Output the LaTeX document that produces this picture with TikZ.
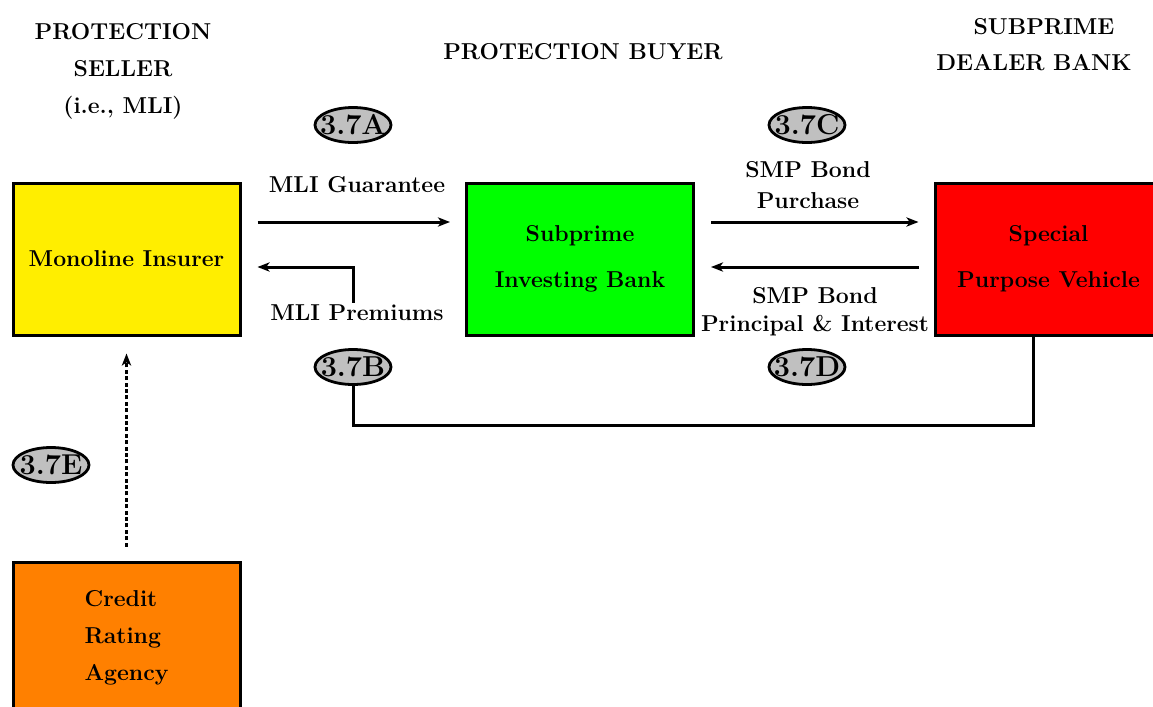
\documentclass[tikz,border=0pt]{standalone}
\usetikzlibrary{arrows.meta,shapes.geometric}
\definecolor{mliyellow}{RGB}{255,238,0}
\definecolor{sibgreen}{RGB}{0,255,0}
\definecolor{spvred}{RGB}{255,0,0}
\definecolor{craorange}{RGB}{255,128,0}
\definecolor{tagfill}{RGB}{192,192,192}
\tikzset{
  party/.style={draw=black,line width=1.5pt,rectangle,minimum width=113.5pt,minimum height=76pt,inner sep=0pt,
    font=\fontsize{11.5}{23}\selectfont\bfseries,align=center},
  tag/.style={draw=black,line width=1.4pt,ellipse,fill=tagfill,minimum width=38pt,minimum height=17.5pt,
    inner xsep=-6pt,inner ysep=0.5pt,font=\fontsize{14.4}{16}\selectfont\bfseries},
  flowlabel/.style={font=\fontsize{11.5}{15.5}\selectfont\bfseries,align=center,inner sep=1pt},
  heading/.style={font=\fontsize{11.5}{18.5}\selectfont\bfseries,align=center},
  flow/.style={line width=1.5pt,-{Stealth[length=6pt,width=4.6pt,inset=1.6pt]}},
  link/.style={line width=1.5pt},
}
\begin{document}
\begin{tikzpicture}[x=0.5pt,y=-0.5pt]
\useasboundingbox (0,0) rectangle (1153,707);
\begin{scope}
\clip (0,0) rectangle (1153,707);
% parties
\node[party,fill=mliyellow] (mli) at (126.5,259) {Monoline Insurer};
\node[party,fill=sibgreen] (sib) at (580,259) {Subprime\\Investing Bank};
\node[party,fill=spvred] (spv) at (1048.5,259) {Special\\Purpose Vehicle};
\node[party,fill=craorange,align=left,font=\fontsize{11.5}{18.5}\selectfont\bfseries] (cra) at (126.5,638) {Credit\\Rating\\Agency};
\end{scope}

% headings
\node[heading] (seller) at (123,71) {PROTECTION\\SELLER\\(i.e., MLI)};
\node[heading] (buyer) at (583,52) {PROTECTION BUYER};
\node[heading,font=\fontsize{11.5}{18}\selectfont\bfseries] (dealer) at (1034,45) {\hspace*{10pt}SUBPRIME\\DEALER BANK};

% step tags
\node[tag] (tA) at (353,125) {3.7A};
\node[tag] (tC) at (807,125) {3.7C};
\node[tag] (tB) at (353,367) {3.7B};
\node[tag] (tD) at (807,367) {3.7D};
\node[tag] (tE) at (51,465) {3.7E};

% flow labels
\node[flowlabel] (guar) at (357,185) {MLI Guarantee};
\node[flowlabel] (prem) at (357,313) {MLI Premiums};
\node[flowlabel] (purch) at (808,185) {SMP Bond\\Purchase};
\node[flowlabel,font=\fontsize{11.5}{14}\selectfont\bfseries] (pni) at (815,312) {SMP Bond\\Principal \& Interest};

% guarantee and premiums
\draw[flow] ([xshift=8pt,yshift=18.5pt]mli.east) -- ([xshift=-7.5pt,yshift=18.5pt]sib.west);
\coordinate (premtop) at (prem.north -| tB);
\draw[flow] (premtop) |- ([xshift=8pt,yshift=-4pt]mli.east);
\coordinate (spvdrop) at ([xshift=-7.75pt]spv.south);
\draw[link] (tB.south) |- (1033,425) -- (spvdrop);

% bond purchase and repayments
\draw[flow] ([xshift=8pt,yshift=18.5pt]sib.east) -- ([xshift=-7.5pt,yshift=18.5pt]spv.west);
\draw[flow] ([xshift=-7.5pt,yshift=-4pt]spv.west) -- ([xshift=8pt,yshift=-4pt]sib.east);

% rating
\draw[line width=1.5pt,dash pattern=on 2pt off 1.2pt,-{Stealth[length=6pt,width=4.6pt,inset=1.6pt]}] ([yshift=7pt]cra.north) -- ([yshift=-8.5pt]mli.south);
\end{tikzpicture}
\end{document}
